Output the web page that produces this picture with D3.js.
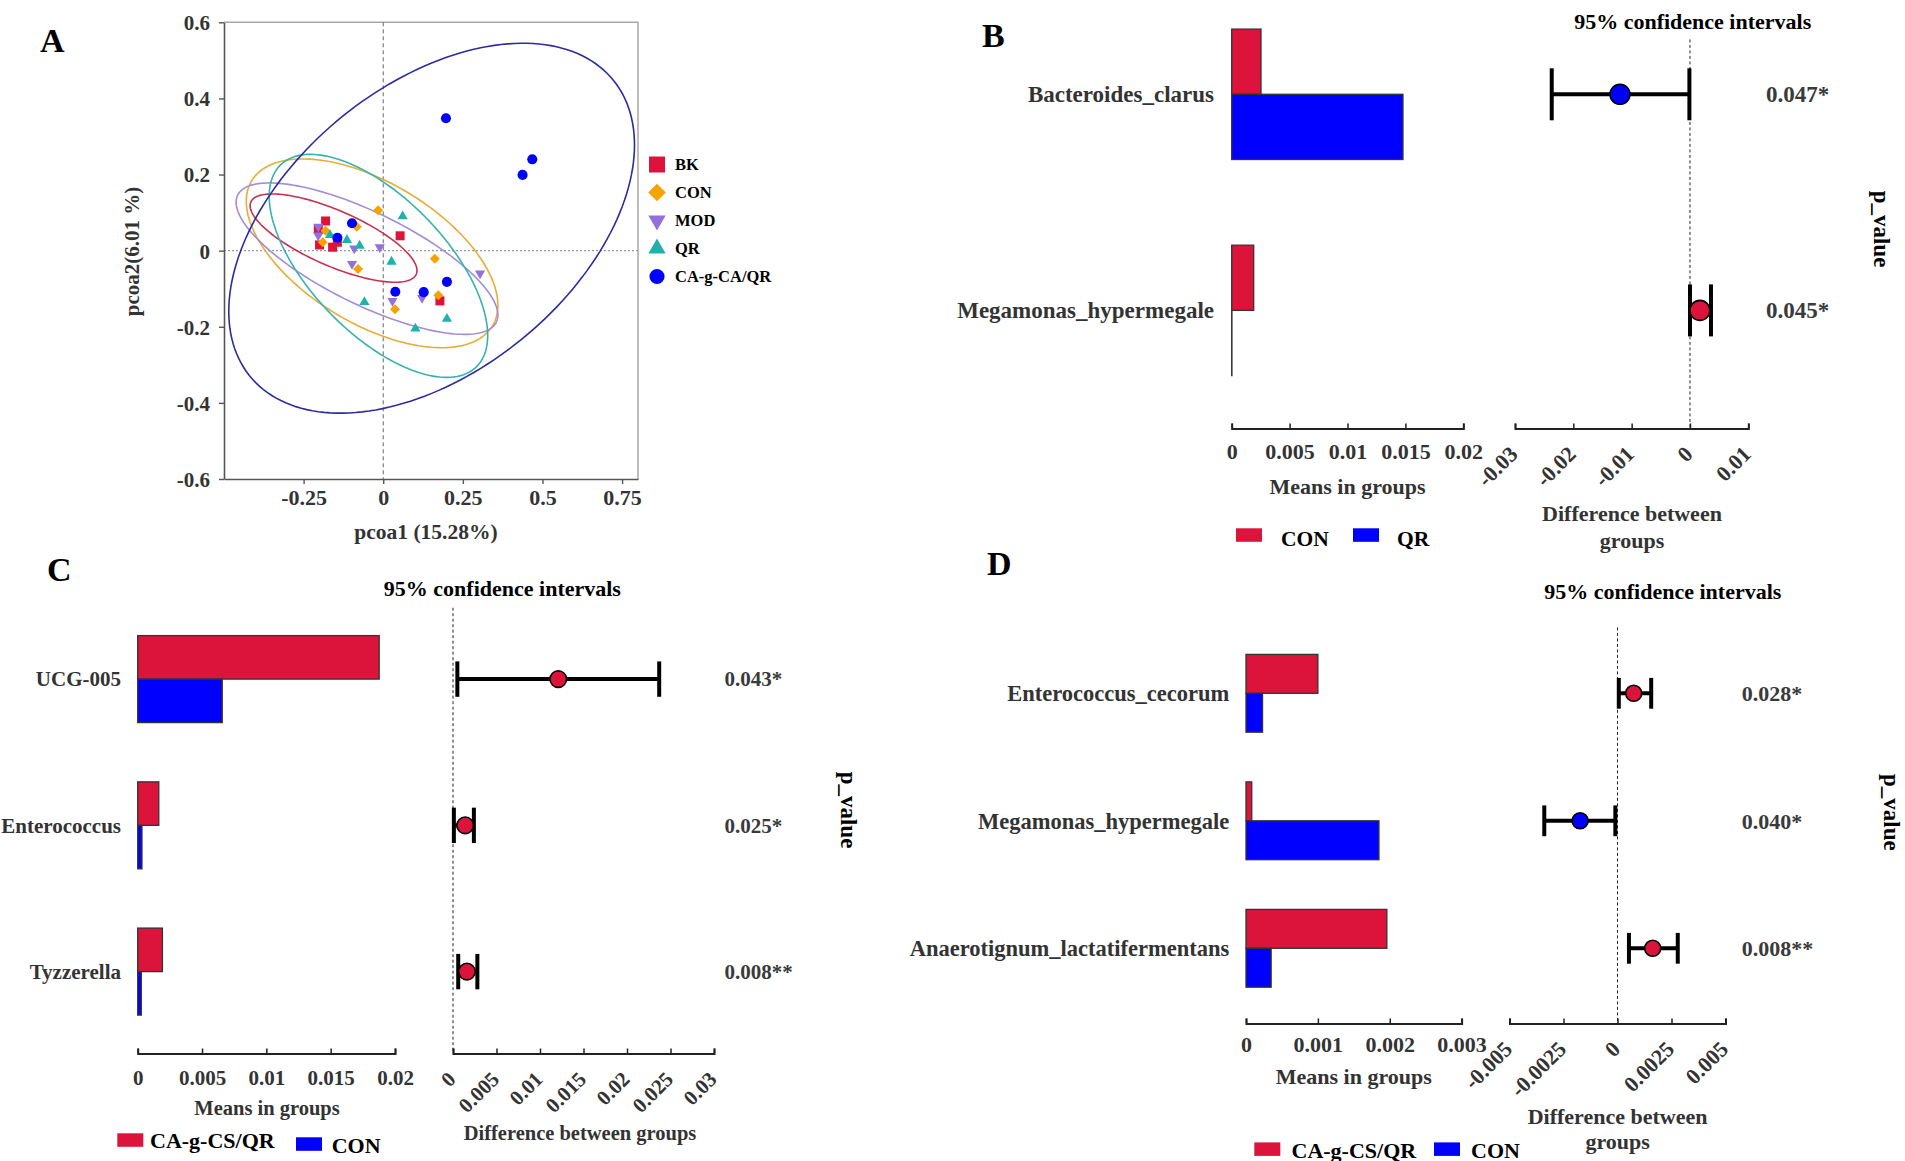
<!DOCTYPE html>
<html>
<head>
<meta charset="utf-8">
<script src="https://cdn.jsdelivr.net/npm/d3@7"></script>
<style>
  body { margin: 0; background: #fff; }
  svg text { font-family: "Liberation Serif", "Times New Roman", serif; font-weight: bold; }
</style>
</head>
<body>
<svg id="fig" width="1905" height="1161"></svg>
<script>
// ---- Panel A: PCoA ----
const groups = ['BK', 'CON', 'MOD', 'QR', 'CA-g-CA/QR'];
const bkPts = [[-0.181, 0.078], [-0.204, 0.055], [-0.2, 0.015], [-0.159, 0.009], [-0.144, 0.022], [0.053, 0.039], [0.178, -0.132]];
const conPts = [[-0.016, 0.106], [-0.083, 0.063], [-0.181, 0.052], [-0.19, 0.022], [-0.079, -0.048], [0.162, -0.021], [0.173, -0.117], [0.037, -0.154]];
const modPts = [[-0.204, 0.063], [-0.204, 0.04], [-0.091, 0.006], [-0.011, 0.009], [-0.098, -0.035], [0.029, -0.132], [0.122, -0.124], [0.304, -0.06]];
const qrPts = [[-0.167, 0.041], [-0.114, 0.028], [-0.074, 0.013], [0.061, 0.09], [0.026, -0.029], [-0.059, -0.135], [0.101, -0.205], [0.2, -0.179]];
const caPts = [[0.197, 0.348], [0.468, 0.24], [0.4375, 0.199], [-0.098, 0.072], [-0.144, 0.034], [0.038, -0.108], [0.127, -0.109], [0.2, -0.082]];
// ellipse centre, half extents and correlation, one per group
const ellCx = [-0.156, -0.035, -0.051, -0.015, 0.152];
const ellCy = [0.033, -0.007, -0.021, -0.040, 0.059];
const ellRx = [0.262, 0.395, 0.411, 0.343, 0.637];
const ellRy = [0.116, 0.248, 0.199, 0.293, 0.486];
const ellCorr = [-0.735, -0.551, -0.745, -0.624, 0.45];
const xTicksA = [-0.25, 0, 0.25, 0.5, 0.75];
const xTickLabelsA = ['-0.25', '0', '0.25', '0.5', '0.75'];
const yTicksA = [-0.6, -0.4, -0.2, 0, 0.2, 0.4, 0.6];
const yTickLabelsA = ['-0.6', '-0.4', '-0.2', '0', '0.2', '0.4', '0.6'];

// ---- Panel B ----
const bTaxa = ['Bacteroides_clarus', 'Megamonas_hypermegale'];
const bCon = [0.00253, 0.0019];
const bQr = [0.01479, 0.00002];
const bDiff = [-0.012, 0.0017];
const bLow = [-0.0237, 0.0];
const bHigh = [-0.0001, 0.0036];
const bP = ['0.047*', '0.045*'];
const bBarTicks = [0, 0.005, 0.01, 0.015, 0.02];
const bBarTickLabels = ['0', '0.005', '0.01', '0.015', '0.02'];
const bCiTicks = [-0.03, -0.02, -0.01, 0, 0.01];
const bCiTickLabels = ['-0.03', '-0.02', '-0.01', '0', '0.01'];

// ---- Panel C ----
const cTaxa = ['UCG-005', 'Enterococcus', 'Tyzzerella'];
const cCaq = [0.01877, 0.00164, 0.00192];
const cCon = [0.00657, 0.00033, 0.00028];
const cDiff = [0.0121, 0.0014, 0.0016];
const cLow = [0.0005, 0.0001, 0.0006];
const cHigh = [0.0237, 0.0024, 0.0028];
const cP = ['0.043*', '0.025*', '0.008**'];
const cBarTicks = [0, 0.005, 0.01, 0.015, 0.02];
const cBarTickLabels = ['0', '0.005', '0.01', '0.015', '0.02'];
const cCiTicks = [0, 0.005, 0.01, 0.015, 0.02, 0.025, 0.03];
const cCiTickLabels = ['0', '0.005', '0.01', '0.015', '0.02', '0.025', '0.03'];

// ---- Panel D ----
const dTaxa = ['Enterococcus_cecorum', 'Megamonas_hypermegale', 'Anaerotignum_lactatifermentans'];
const dCaq = [0.001, 0.00008, 0.00196];
const dCon = [0.00023, 0.00185, 0.00035];
const dDiff = [0.00075, -0.00173, 0.00163];
const dLow = [0.00006, -0.00339, 0.00053];
const dHigh = [0.00156, -0.0001, 0.00279];
const dP = ['0.028*', '0.040*', '0.008**'];
const dBarTicks = [0, 0.001, 0.002, 0.003];
const dBarTickLabels = ['0', '0.001', '0.002', '0.003'];
const dCiTicks = [-0.005, -0.0025, 0, 0.0025, 0.005];
const dCiTickLabels = ['-0.005', '-0.0025', '0', '0.0025', '0.005'];

// Colours.
const RED = '#dc143c';
const BLUE = '#0000ff';
const groupColor = ['#dc143c', '#f4a300', '#9370db', '#20b2aa', '#0000ff'];
const ellipseColor = ['#c8324f', '#e8ac38', '#a28ed6', '#38b2ae', '#2c2c9e'];

const svg = d3.select('#fig');
svg.append('rect').attr('width', 1905).attr('height', 1161).attr('fill', '#fff');

// Panel letters.
[['A', 40, 51.5], ['B', 982, 47], ['C', 47, 581], ['D', 987, 575]].forEach(([t, x, y]) => {
  svg.append('text').attr('x', x).attr('y', y).attr('font-size', 34).attr('fill', '#000').text(t);
});

// ================= Panel A =================
const xA = d3.scaleLinear().domain([-0.5, 0.8]).range([224, 638]);
const yA = d3.scaleLinear().domain([-0.6, 0.6]).range([479, 22.3]);
const gA = svg.append('g');

gA.append('path')
  .attr('d', `M${xA(-0.5)},${yA(0.6)}H${xA(0.8)}V${yA(-0.6)}`)
  .attr('fill', 'none').attr('stroke', '#a8a8a8').attr('stroke-width', 1.5);
gA.append('line')
  .attr('x1', xA(0)).attr('x2', xA(0)).attr('y1', yA(0.6)).attr('y2', yA(-0.6))
  .attr('stroke', '#666').attr('stroke-width', 1).attr('stroke-dasharray', '4,3');
gA.append('line')
  .attr('x1', xA(-0.5)).attr('x2', xA(0.8)).attr('y1', yA(0)).attr('y2', yA(0))
  .attr('stroke', '#999').attr('stroke-width', 1.2).attr('stroke-dasharray', '2,2');

// Confidence ellipses: x = cx + rx cos t, y = cy + ry cos(t + acos(r)).
const ellLine = d3.line().x(d => xA(d[0])).y(d => yA(d[1])).curve(d3.curveLinearClosed);
groups.forEach((name, i) => {
  const phi = Math.acos(ellCorr[i]);
  const pts = d3.range(0, 360, 2).map(a => {
    const t = a * Math.PI / 180;
    return [ellCx[i] + ellRx[i] * Math.cos(t), ellCy[i] + ellRy[i] * Math.cos(t + phi)];
  });
  gA.append('path').attr('d', ellLine(pts))
    .attr('fill', 'none').attr('stroke', ellipseColor[i]).attr('stroke-width', 1.6);
});

// Markers.
const markerType = [d3.symbolSquare, d3.symbolSquare, d3.symbolTriangle, d3.symbolTriangle, d3.symbolCircle];
const markerRot = [0, 45, 180, 0, 0];
const markerSize = [81, 50, 45, 45, 80];
const legendSize = [256, 156, 130, 130, 180];
[bkPts, conPts, modPts, qrPts, caPts].forEach((pts, i) => {
  gA.selectAll(null).data(pts).join('path')
    .attr('d', d3.symbol(markerType[i], markerSize[i]))
    .attr('transform', d => `translate(${xA(d[0])},${yA(d[1])}) rotate(${markerRot[i]})`)
    .attr('fill', groupColor[i]);
});

// Axes.
const axLeftA = gA.append('g').attr('transform', `translate(${xA(-0.5)},0)`)
  .call(d3.axisLeft(yA).tickValues(yTicksA).tickSize(5).tickSizeOuter(0)
    .tickFormat((d, i) => yTickLabelsA[i]));
const axBotA = gA.append('g').attr('transform', `translate(0,${yA(-0.6)})`)
  .call(d3.axisBottom(xA).tickValues(xTicksA).tickSize(5).tickSizeOuter(0)
    .tickFormat((d, i) => xTickLabelsA[i]));
[axLeftA, axBotA].forEach(ax => {
  ax.select('.domain').attr('stroke', '#555').attr('stroke-width', 1.6);
  ax.selectAll('.tick line').attr('stroke', '#555').attr('stroke-width', 1.4);
  ax.selectAll('text').attr('font-family', null).attr('font-size', 21).attr('fill', '#333');
});
axLeftA.selectAll('text').attr('x', -14).attr('dy', '0.35em');
axBotA.selectAll('text').attr('y', 18).attr('dy', '0.35em').attr('font-size', 22);

gA.append('text').attr('x', 426).attr('y', 531).attr('dy', '0.35em')
  .attr('text-anchor', 'middle').attr('font-size', 21.5).attr('fill', '#333')
  .text('pcoa1 (15.28%)');
gA.append('text').attr('transform', 'translate(139,251.5) rotate(-90)')
  .attr('text-anchor', 'middle').attr('font-size', 21).attr('fill', '#333')
  .text('pcoa2(6.01 %)');

// Legend A.
groups.forEach((name, i) => {
  const y = 164.5 + i * 28;
  gA.append('path').attr('d', d3.symbol(markerType[i], legendSize[i]))
    .attr('transform', `translate(657,${y}) rotate(${markerRot[i]})`)
    .attr('fill', groupColor[i]);
  gA.append('text').attr('x', 675).attr('y', y).attr('dy', '0.35em')
    .attr('font-size', 16.5).attr('fill', '#000').text(name);
});

// ================= STAMP panels =================
function drawStamp(o) {
  const g = svg.append('g');
  const yRow = d3.scalePoint().domain(o.taxa).range(o.rowRange);
  const xBar = d3.scaleLinear().domain(o.barDomain).range(o.barRange);
  const xCi = d3.scaleLinear().domain(o.ciDomain).range(o.ciRange);

  // Bars.
  g.selectAll('.g1').data(o.taxa).join('rect')
    .attr('x', xBar(0)).attr('y', d => yRow(d) - o.barH)
    .attr('width', (d, i) => xBar(o.g1[i]) - xBar(0)).attr('height', o.barH)
    .attr('fill', RED).attr('stroke', '#333').attr('stroke-width', 1.3);
  g.selectAll('.g2').data(o.taxa).join('rect')
    .attr('x', xBar(0)).attr('y', d => yRow(d))
    .attr('width', (d, i) => xBar(o.g2[i]) - xBar(0)).attr('height', o.barH)
    .attr('fill', BLUE).attr('stroke', '#333').attr('stroke-width', 1.3);

  g.selectAll('.lab').data(o.taxa).join('text')
    .attr('x', o.labelX).attr('y', d => yRow(d)).attr('dy', '0.35em')
    .attr('text-anchor', 'end').attr('font-size', o.fs).attr('fill', '#333')
    .text(d => d);

  // Zero line.
  g.append('line')
    .attr('x1', xCi(0)).attr('x2', xCi(0)).attr('y1', o.dashTop).attr('y2', o.axisY)
    .attr('stroke', '#222').attr('stroke-width', 1).attr('stroke-dasharray', '3,2.5');

  // Confidence intervals.
  o.taxa.forEach((t, i) => {
    const y = yRow(t);
    g.append('line').attr('x1', xCi(o.lo[i])).attr('x2', xCi(o.hi[i]))
      .attr('y1', y).attr('y2', y).attr('stroke', '#000').attr('stroke-width', 4);
    [o.lo[i], o.hi[i]].forEach(v => {
      g.append('line').attr('x1', xCi(v)).attr('x2', xCi(v))
        .attr('y1', y - o.capH).attr('y2', y + o.capH)
        .attr('stroke', '#000').attr('stroke-width', 4);
    });
    g.append('circle').attr('cx', xCi(o.diff[i])).attr('cy', y).attr('r', o.r)
      .attr('fill', o.diff[i] >= 0 ? RED : BLUE).attr('stroke', '#000').attr('stroke-width', 1.6);
  });

  g.selectAll('.pv').data(o.p).join('text')
    .attr('x', o.pX).attr('y', (d, i) => yRow(o.taxa[i])).attr('dy', '0.35em')
    .attr('font-size', o.pFs).attr('fill', '#3a3a3a').text(d => d);

  // Axes.
  const axBar = g.append('g').attr('transform', `translate(0,${o.axisY})`)
    .call(d3.axisBottom(xBar).tickValues(o.barTicks).tickSize(-5).tickSizeOuter(-5)
      .tickFormat((d, i) => o.barTickLabels[i]));
  const axCi = g.append('g').attr('transform', `translate(0,${o.axisY})`)
    .call(d3.axisBottom(xCi).tickValues(o.ciTicks).tickSize(-5).tickSizeOuter(-5)
      .tickFormat((d, i) => o.ciTickLabels[i]));
  [axBar, axCi].forEach(ax => {
    ax.select('.domain').attr('stroke', '#222').attr('stroke-width', 2);
    ax.selectAll('.tick line').attr('stroke', '#222').attr('stroke-width', 1.5);
    ax.selectAll('text').attr('font-family', null).attr('font-size', o.tickFs).attr('fill', '#333');
  });
  axBar.selectAll('text').attr('y', o.tickLabY - o.axisY).attr('dy', '0.35em');
  axCi.selectAll('text').attr('x', null).attr('y', null).attr('dy', null)
    .attr('text-anchor', 'end').attr('transform', 'translate(3.5,27) rotate(-45)');

  // Titles.
  g.append('text').attr('x', o.ciTitle[0]).attr('y', o.ciTitle[1]).attr('dy', '0.35em')
    .attr('text-anchor', 'middle').attr('font-size', 22).attr('fill', '#000')
    .text('95% confidence intervals');
  g.append('text').attr('x', o.means[0]).attr('y', o.means[1]).attr('dy', '0.35em')
    .attr('text-anchor', 'middle').attr('font-size', o.titleFs).attr('fill', '#333')
    .text('Means in groups');
  o.diffLines.forEach((s, i) => {
    g.append('text').attr('x', o.diffX).attr('y', o.diffY[i]).attr('dy', '0.35em')
      .attr('text-anchor', 'middle').attr('font-size', o.titleFs).attr('fill', '#333').text(s);
  });
  g.append('text').attr('transform', `translate(${o.pv[0]},${o.pv[1]}) rotate(90)`)
    .attr('text-anchor', 'middle').attr('font-size', 23).attr('fill', '#000').text('p_value');

  // Legend.
  o.legend.forEach((l, i) => {
    g.append('rect').attr('x', l.x).attr('y', l.y).attr('width', 26).attr('height', 13.5)
      .attr('fill', i === 0 ? RED : BLUE);
    g.append('text').attr('x', l.tx).attr('y', l.ty).attr('font-size', o.legFs)
      .attr('fill', '#000').text(l.name);
  });
}

drawStamp({
  taxa: bTaxa, g1: bCon, g2: bQr, diff: bDiff, lo: bLow, hi: bHigh, p: bP,
  barDomain: [0, 0.02], barRange: [1231.7, 1463.3], ciDomain: [-0.03, 0.01], ciRange: [1515, 1748.3],
  barTicks: bBarTicks, barTickLabels: bBarTickLabels, ciTicks: bCiTicks, ciTickLabels: bCiTickLabels,
  rowRange: [94.3, 310.4], barH: 65.2, axisY: 428.5, labelX: 1214, fs: 23, tickFs: 22, tickLabY: 451.7,
  pX: 1766, pFs: 23, capH: 26, r: 10, dashTop: 39.4, ciTitle: [1692.7, 21.5],
  means: [1347.5, 486], titleFs: 22, diffLines: ['Difference between', 'groups'], diffX: 1632, diffY: [513, 540],
  pv: [1874, 229], legFs: 21.5,
  legend: [{ name: 'CON', x: 1236, y: 528.3, tx: 1281, ty: 545.7 }, { name: 'QR', x: 1353, y: 528.3, tx: 1397, ty: 545.7 }]
});

drawStamp({
  taxa: cTaxa, g1: cCaq, g2: cCon, diff: cDiff, lo: cLow, hi: cHigh, p: cP,
  barDomain: [0, 0.02], barRange: [137.7, 395], ciDomain: [0, 0.03], ciRange: [453, 714],
  barTicks: cBarTicks, barTickLabels: cBarTickLabels, ciTicks: cCiTicks, ciTickLabels: cCiTickLabels,
  rowRange: [679.1, 971.6], barH: 43.5, axisY: 1053.5, labelX: 121, fs: 21, tickFs: 21, tickLabY: 1077.3,
  pX: 724.6, pFs: 21, capH: 17.7, r: 8.3, dashTop: 607.7, ciTitle: [502.4, 588.6],
  means: [267, 1108.3], titleFs: 20.5, diffLines: ['Difference between groups'], diffX: 580, diffY: [1132.7],
  pv: [841, 810], legFs: 22,
  legend: [{ name: 'CA-g-CS/QR', x: 117.3, y: 1133.3, tx: 150, ty: 1148 }, { name: 'CON', x: 296, y: 1137.3, tx: 331.7, ty: 1152.7 }]
});

drawStamp({
  taxa: dTaxa, g1: dCaq, g2: dCon, diff: dDiff, lo: dLow, hi: dHigh, p: dP,
  barDomain: [0, 0.003], barRange: [1246, 1461.6], ciDomain: [-0.005, 0.005], ciRange: [1509.5, 1725.5],
  barTicks: dBarTicks, barTickLabels: dBarTickLabels, ciTicks: dCiTicks, ciTickLabels: dCiTickLabels,
  rowRange: [693.3, 948.3], barH: 38.9, axisY: 1023.4, labelX: 1229.3, fs: 22.5, tickFs: 22, tickLabY: 1044.6,
  pX: 1741.7, pFs: 22, capH: 15.4, r: 8, dashTop: 627.4, ciTitle: [1662.8, 590.8],
  means: [1353.8, 1076], titleFs: 22, diffLines: ['Difference between', 'groups'], diffX: 1617.6, diffY: [1116, 1141.6],
  pv: [1884, 812.3], legFs: 22,
  legend: [{ name: 'CA-g-CS/QR', x: 1254.3, y: 1142.4, tx: 1291.5, ty: 1157.5 }, { name: 'CON', x: 1434, y: 1142.4, tx: 1471, ty: 1157.5 }]
});
</script>
</body>
</html>
